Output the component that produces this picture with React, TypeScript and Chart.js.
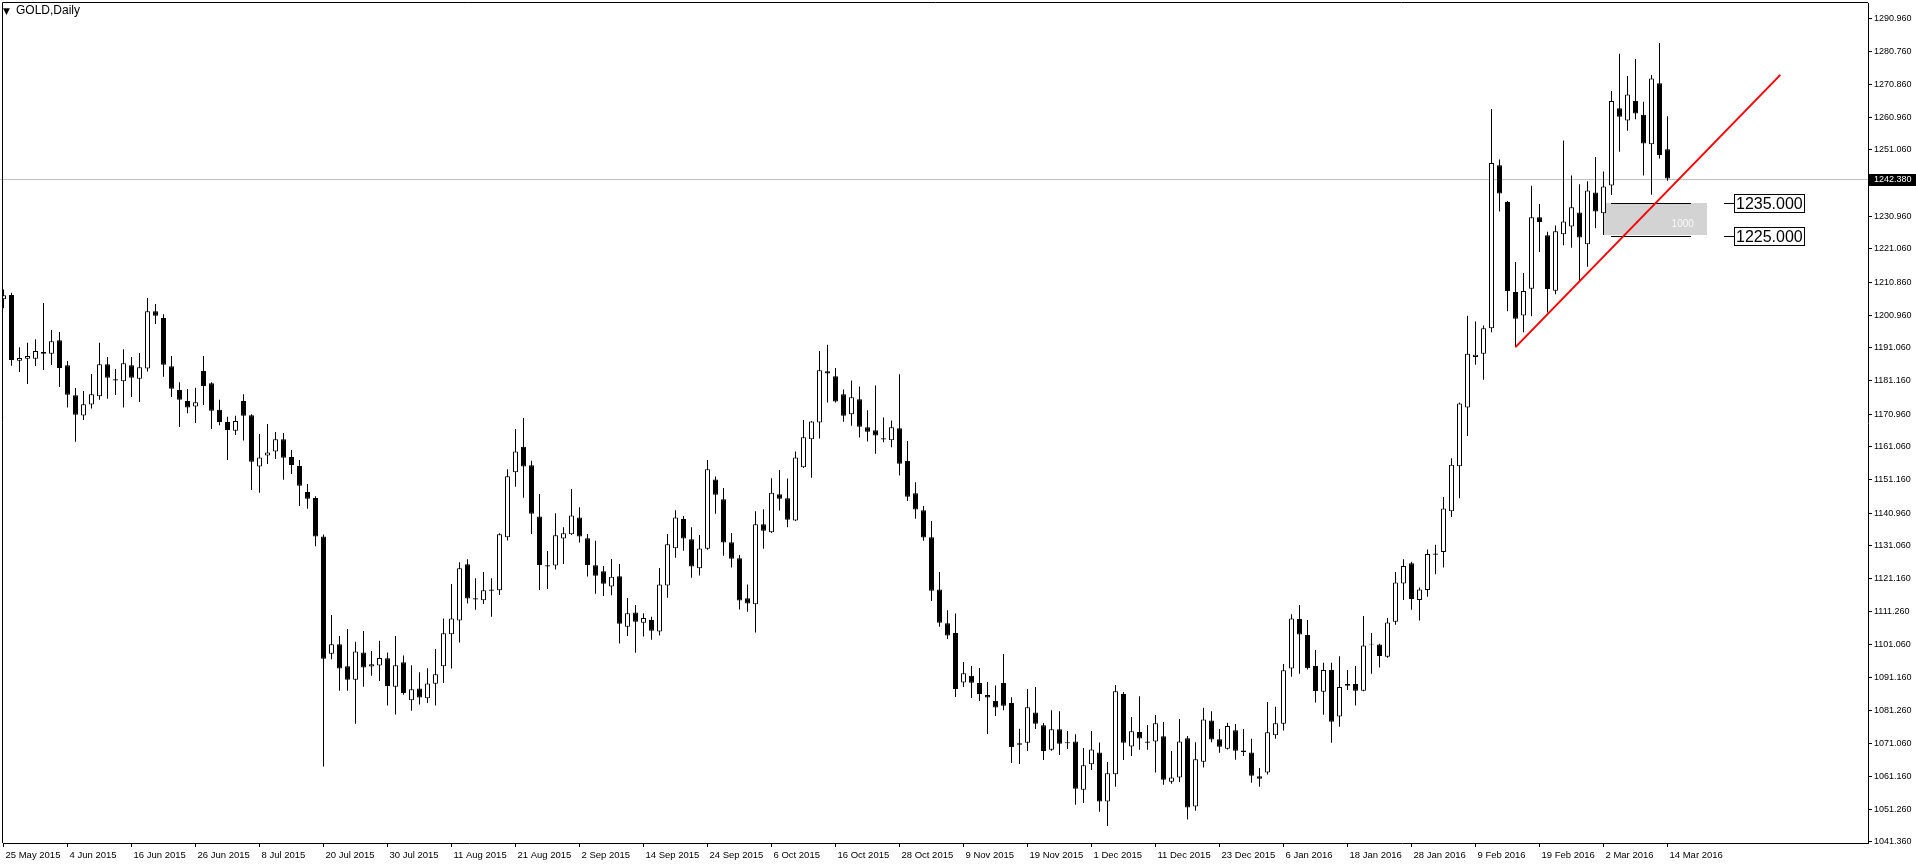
import React, { useEffect, useRef } from 'react';
import { Chart, registerables } from 'chart.js';

Chart.register(...registerables);

// ---- Daily GOLD candles (25 May 2015 .. 14 Mar 2016) ----
const OPEN = [
  1205.8, 1207.1, 1187.2, 1187.8, 1187.8, 1189.8, 1189.3, 1193.4, 1185.8, 1176.7,
  1170.6, 1173.9, 1176.4, 1186.1, 1181.6, 1181.0, 1185.8, 1181.7, 1184.8, 1202.2,
  1200.1, 1185.5, 1178.3, 1175.0, 1173.3, 1184.1, 1180.4, 1172.3, 1168.6, 1166.0,
  1175.0, 1170.7, 1155.1, 1158.5, 1159.7, 1163.4, 1158.0, 1155.3, 1147.4, 1145.6,
  1133.9, 1098.4, 1101.3, 1094.6, 1090.5, 1098.8, 1094.5, 1094.8, 1097.0, 1088.4,
  1095.8, 1084.3, 1087.9, 1084.9, 1089.3, 1094.6, 1104.3, 1108.5, 1125.5, 1115.2,
  1114.6, 1117.9, 1117.6, 1133.7, 1153.4, 1161.1, 1155.5, 1140.0, 1125.2, 1125.1,
  1133.3, 1134.6, 1139.7, 1133.4, 1125.2, 1123.4, 1118.8, 1121.9, 1106.6, 1110.9,
  1107.8, 1108.6, 1105.1, 1119.1, 1130.4, 1139.2, 1133.1, 1124.3, 1130.2, 1151.2,
  1145.2, 1132.2, 1127.3, 1115.2, 1113.4, 1137.6, 1135.2, 1146.7, 1145.5, 1138.8,
  1154.9, 1163.4, 1168.5, 1184.0, 1182.5, 1177.0, 1171.0, 1175.5, 1167.0, 1166.1,
  1163.7, 1163.1, 1166.7, 1156.8, 1147.0, 1141.9, 1133.7, 1117.9, 1107.6, 1104.7,
  1089.7, 1091.7, 1089.5, 1085.9, 1084.1, 1089.5, 1083.5, 1071.3, 1071.4, 1080.6,
  1076.7, 1069.3, 1075.5, 1071.6, 1071.8, 1057.2, 1064.9, 1068.5, 1053.6, 1061.9,
  1086.2, 1070.3, 1074.7, 1071.8, 1071.8, 1073.4, 1059.6, 1060.9, 1072.8, 1052.1,
  1065.7, 1078.2, 1072.5, 1069.6, 1075.2, 1069.1, 1068.5, 1061.3, 1062.4, 1073.7,
  1077.2, 1093.9, 1108.9, 1104.1, 1094.7, 1086.9, 1093.5, 1079.4, 1089.2, 1089.2,
  1087.2, 1101.2, 1101.2, 1097.5, 1108.1, 1119.7, 1125.8, 1114.7, 1117.7, 1128.4,
  1129.2, 1141.6, 1155.2, 1173.0, 1188.3, 1189.3, 1197.0, 1246.4, 1235.3, 1208.0,
  1200.9, 1209.0, 1230.7, 1225.2, 1208.4, 1225.5, 1227.9, 1232.1, 1222.5, 1238.2,
  1231.9, 1240.3, 1263.7, 1260.0, 1265.9, 1261.7, 1252.8, 1271.3, 1251.3,
];
const HIGH = [
  1208.8, 1207.8, 1191.3, 1192.6, 1193.7, 1204.7, 1196.5, 1195.9, 1187.1, 1178.9,
  1178.0, 1183.2, 1192.6, 1188.3, 1184.7, 1190.7, 1188.3, 1189.5, 1206.2, 1204.4,
  1201.3, 1188.6, 1180.7, 1178.6, 1179.0, 1188.6, 1180.7, 1175.4, 1170.2, 1170.5,
  1177.0, 1171.0, 1165.0, 1168.0, 1165.6, 1165.3, 1160.1, 1157.1, 1149.8, 1146.1,
  1134.5, 1110.1, 1103.8, 1105.9, 1102.0, 1105.3, 1099.2, 1102.3, 1098.8, 1103.8,
  1097.9, 1094.9, 1092.8, 1094.0, 1099.8, 1109.1, 1119.5, 1126.1, 1127.0, 1121.3,
  1123.2, 1121.3, 1134.9, 1154.3, 1166.5, 1169.8, 1156.9, 1146.8, 1129.5, 1141.0,
  1136.7, 1148.3, 1142.8, 1134.7, 1132.6, 1125.0, 1127.1, 1125.6, 1115.3, 1113.2,
  1110.7, 1109.6, 1124.4, 1134.7, 1141.9, 1140.1, 1136.7, 1134.4, 1157.1, 1152.1,
  1148.6, 1135.0, 1128.3, 1119.4, 1141.6, 1142.2, 1151.6, 1154.1, 1151.5, 1159.7,
  1169.2, 1168.9, 1190.1, 1192.0, 1185.0, 1178.5, 1181.2, 1179.4, 1172.2, 1179.7,
  1170.0, 1169.1, 1183.1, 1162.9, 1150.4, 1143.2, 1138.6, 1123.2, 1111.6, 1110.6,
  1095.9, 1094.7, 1094.1, 1089.8, 1088.8, 1098.3, 1085.2, 1075.7, 1087.7, 1088.3,
  1077.4, 1081.3, 1081.0, 1075.0, 1074.0, 1069.8, 1075.0, 1071.5, 1065.6, 1088.9,
  1086.8, 1079.2, 1085.5, 1076.8, 1079.8, 1077.7, 1068.9, 1078.6, 1073.5, 1071.6,
  1082.0, 1081.0, 1075.6, 1077.5, 1077.1, 1075.6, 1072.6, 1063.8, 1083.8, 1082.3,
  1095.3, 1110.4, 1113.2, 1108.6, 1099.5, 1095.7, 1095.7, 1097.6, 1093.5, 1094.7,
  1109.8, 1104.7, 1101.4, 1109.2, 1123.2, 1127.0, 1126.3, 1118.5, 1130.0, 1131.4,
  1145.9, 1157.6, 1174.5, 1200.8, 1199.1, 1197.9, 1263.5, 1248.2, 1235.6, 1217.1,
  1213.8, 1240.2, 1234.7, 1226.3, 1228.2, 1253.9, 1243.3, 1240.7, 1241.6, 1248.9,
  1244.5, 1268.9, 1280.2, 1273.5, 1278.6, 1265.7, 1273.8, 1283.5, 1261.3,
];
const LOW = [
  1203.1, 1185.7, 1183.8, 1180.1, 1185.6, 1184.4, 1185.9, 1179.2, 1173.0, 1162.6,
  1169.2, 1172.7, 1175.4, 1175.7, 1176.8, 1173.0, 1176.2, 1174.7, 1183.9, 1198.3,
  1182.3, 1176.2, 1167.1, 1171.3, 1168.3, 1173.8, 1166.5, 1167.6, 1157.1, 1164.7,
  1163.0, 1148.0, 1147.2, 1155.9, 1157.4, 1151.1, 1152.9, 1143.2, 1142.3, 1131.0,
  1064.2, 1096.7, 1087.2, 1087.2, 1077.2, 1088.4, 1091.7, 1090.1, 1082.7, 1080.0,
  1086.0, 1081.1, 1083.0, 1083.5, 1082.7, 1089.5, 1093.9, 1101.8, 1113.6, 1111.7,
  1113.5, 1109.6, 1116.2, 1132.7, 1149.0, 1145.7, 1134.7, 1117.7, 1118.0, 1123.9,
  1125.6, 1134.4, 1132.1, 1121.8, 1116.6, 1115.9, 1116.1, 1101.5, 1103.8, 1098.7,
  1103.6, 1102.6, 1103.9, 1115.4, 1127.5, 1129.6, 1121.4, 1122.1, 1129.9, 1140.8,
  1128.1, 1124.5, 1111.8, 1111.1, 1104.8, 1130.2, 1135.0, 1141.8, 1136.7, 1138.6,
  1154.7, 1151.7, 1163.6, 1174.5, 1174.5, 1168.7, 1167.5, 1163.9, 1162.7, 1159.0,
  1162.5, 1161.0, 1152.4, 1144.7, 1139.3, 1132.6, 1114.4, 1106.6, 1102.9, 1085.3,
  1088.3, 1085.0, 1084.1, 1074.1, 1079.5, 1081.3, 1065.3, 1065.0, 1068.9, 1075.6,
  1066.2, 1069.0, 1067.7, 1069.5, 1052.6, 1053.2, 1063.2, 1050.5, 1046.2, 1058.1,
  1066.2, 1067.4, 1069.3, 1069.3, 1062.4, 1058.7, 1059.0, 1059.5, 1048.2, 1050.8,
  1063.9, 1071.6, 1068.4, 1069.4, 1066.3, 1067.4, 1059.3, 1058.1, 1061.8, 1072.6,
  1075.1, 1091.4, 1092.3, 1093.6, 1083.6, 1079.9, 1071.4, 1076.3, 1087.4, 1082.7,
  1087.0, 1092.3, 1094.2, 1097.2, 1107.2, 1114.7, 1111.7, 1108.5, 1115.7, 1122.5,
  1124.5, 1139.8, 1145.5, 1164.4, 1186.0, 1181.4, 1195.8, 1232.4, 1202.2, 1191.3,
  1195.8, 1200.7, 1220.1, 1201.8, 1207.3, 1222.2, 1221.4, 1211.4, 1215.7, 1227.3,
  1225.3, 1237.4, 1250.5, 1256.9, 1260.4, 1243.3, 1237.5, 1248.5, 1241.7,
];
const CLOSE = [
  1207.0, 1187.4, 1188.0, 1188.6, 1190.1, 1189.3, 1193.1, 1185.0, 1176.9, 1170.8,
  1174.0, 1177.0, 1186.1, 1182.0, 1181.2, 1186.4, 1182.0, 1185.2, 1202.2, 1200.8,
  1186.0, 1178.7, 1175.4, 1173.0, 1174.6, 1179.5, 1172.0, 1168.6, 1166.2, 1168.9,
  1170.5, 1156.6, 1157.9, 1159.4, 1163.4, 1157.8, 1155.6, 1149.3, 1145.4, 1133.9,
  1096.9, 1101.3, 1093.9, 1090.5, 1099.1, 1094.2, 1095.2, 1097.1, 1088.6, 1094.9,
  1086.5, 1087.6, 1085.1, 1089.4, 1092.2, 1104.6, 1109.1, 1124.3, 1115.1, 1114.8,
  1117.6, 1117.5, 1134.6, 1152.2, 1159.7, 1155.1, 1140.8, 1125.3, 1124.8, 1134.3,
  1134.9, 1140.3, 1133.9, 1125.3, 1122.0, 1119.6, 1121.7, 1107.5, 1110.7, 1108.1,
  1109.2, 1105.4, 1119.4, 1131.6, 1139.7, 1133.3, 1124.8, 1130.3, 1154.3, 1146.6,
  1132.1, 1127.2, 1114.5, 1113.6, 1137.6, 1135.7, 1147.2, 1145.4, 1139.0, 1157.9,
  1164.0, 1168.8, 1184.3, 1183.3, 1174.8, 1170.5, 1176.1, 1167.2, 1165.7, 1164.5,
  1163.3, 1167.0, 1156.0, 1146.0, 1142.1, 1133.6, 1117.5, 1107.8, 1103.9, 1087.7,
  1092.5, 1089.6, 1086.2, 1085.1, 1082.1, 1082.6, 1070.1, 1070.8, 1082.2, 1077.2,
  1068.9, 1075.5, 1071.1, 1071.3, 1057.5, 1064.6, 1069.4, 1053.6, 1062.2, 1087.0,
  1071.4, 1074.9, 1072.7, 1071.4, 1077.3, 1060.2, 1060.9, 1071.8, 1051.8, 1066.4,
  1078.5, 1072.4, 1070.2, 1076.5, 1069.0, 1068.6, 1061.4, 1060.5, 1074.6, 1077.3,
  1093.4, 1109.1, 1104.2, 1094.0, 1087.1, 1093.5, 1077.8, 1088.3, 1088.7, 1087.2,
  1100.9, 1101.4, 1097.7, 1107.9, 1120.0, 1125.0, 1115.0, 1117.9, 1128.6, 1128.8,
  1142.4, 1155.7, 1174.2, 1189.3, 1189.0, 1197.0, 1247.1, 1237.9, 1208.3, 1199.9,
  1208.3, 1230.7, 1229.2, 1208.9, 1226.4, 1229.4, 1233.7, 1224.5, 1238.8, 1232.4,
  1240.0, 1265.9, 1261.1, 1267.9, 1262.1, 1253.0, 1272.7, 1249.5, 1242.4,
];

// ---- axes ----
const DATE_LABELS = [
  '25 May 2015', '4 Jun 2015', '16 Jun 2015', '26 Jun 2015', '8 Jul 2015', '20 Jul 2015',
  '30 Jul 2015', '11 Aug 2015', '21 Aug 2015', '2 Sep 2015', '14 Sep 2015', '24 Sep 2015',
  '6 Oct 2015', '16 Oct 2015', '28 Oct 2015', '9 Nov 2015', '19 Nov 2015', '1 Dec 2015',
  '11 Dec 2015', '23 Dec 2015', '6 Jan 2016', '18 Jan 2016', '28 Jan 2016', '9 Feb 2016',
  '19 Feb 2016', '2 Mar 2016', '14 Mar 2016',
];
const DATE_LABEL_STEP = 8; // one label every 8 bars
const Y_TICKS = [
  1290.96, 1280.76, 1270.86, 1260.96, 1251.06, 1240.86, 1230.96, 1221.06, 1210.86,
  1200.96, 1191.06, 1181.16, 1170.96, 1161.06, 1151.16, 1140.96, 1131.06, 1121.16,
  1111.26, 1101.06, 1091.16, 1081.26, 1071.06, 1061.16, 1051.26, 1041.36,
];
const X_RANGE = [-0.0625, 233.0625];
const Y_RANGE = [1041.045, 1295.59];

// ---- drawings ----
const LAST_PRICE = 1242.38;
const TREND_X = [189, 222.1];
const TREND_Y = [1191.3, 1273.8];
const ZONE_X = [200, 212.9];
const ZONE_Y = [1225.2, 1235];
const ZONE_TEXT = '1000';
const ZONE_TEXT_AT = [209.9, 1228.4];
const LEVELS = [1235, 1225];
const LEVEL_LINE_X = [200.94, 210.9];
const LEVEL_TAG_X = [215.1, 216.35];
const TITLE = 'GOLD,Daily';

const FONT = '"Liberation Sans", Arial, sans-serif';

const overlayPlugin = {
  id: 'mt4Overlay',
  beforeDatasetsDraw(chart: any) {
    const { ctx, chartArea: a, scales } = chart;
    const x = scales.x;
    const y = scales.y;
    ctx.save();
    // zone
    const zx0 = x.getPixelForValue(ZONE_X[0]);
    const zx1 = x.getPixelForValue(ZONE_X[1]);
    const zy0 = y.getPixelForValue(ZONE_Y[1]);
    const zy1 = y.getPixelForValue(ZONE_Y[0]);
    ctx.fillStyle = '#d3d3d3';
    ctx.fillRect(Math.round(zx0), Math.round(zy0), Math.round(zx1 - zx0), Math.round(zy1 - zy0));
    ctx.fillStyle = '#f8f8f8';
    ctx.font = '10px ' + FONT;
    ctx.textAlign = 'center';
    ctx.textBaseline = 'middle';
    ctx.fillText(ZONE_TEXT, x.getPixelForValue(ZONE_TEXT_AT[0]), y.getPixelForValue(ZONE_TEXT_AT[1]));
    // last price line
    const py = Math.round(y.getPixelForValue(LAST_PRICE)) + 0.5;
    ctx.strokeStyle = '#c0c0c0';
    ctx.lineWidth = 1;
    ctx.beginPath();
    ctx.moveTo(0, py);
    ctx.lineTo(a.right, py);
    ctx.stroke();
    // level lines
    ctx.strokeStyle = '#000';
    LEVELS.forEach((lv) => {
      const ly = Math.round(y.getPixelForValue(lv)) + 0.5;
      ctx.beginPath();
      ctx.moveTo(Math.round(x.getPixelForValue(LEVEL_LINE_X[0])), ly);
      ctx.lineTo(Math.round(x.getPixelForValue(LEVEL_LINE_X[1])), ly);
      ctx.stroke();
    });
    ctx.restore();
  },
  afterDraw(chart: any) {
    const { ctx, chartArea: a, scales } = chart;
    const x = scales.x;
    const y = scales.y;
    ctx.save();
    // frame (left + top)
    ctx.strokeStyle = '#000';
    ctx.lineWidth = 1;
    ctx.beginPath();
    ctx.moveTo(a.left - 0.5, a.bottom);
    ctx.lineTo(a.left - 0.5, a.top - 0.5);
    ctx.lineTo(a.right, a.top - 0.5);
    ctx.stroke();

    // level tags
    ctx.font = '16px ' + FONT;
    ctx.textBaseline = 'middle';
    ctx.textAlign = 'left';
    LEVELS.forEach((lv) => {
      const ly = Math.round(y.getPixelForValue(lv)) + 0.5;
      const lx0 = Math.round(x.getPixelForValue(LEVEL_TAG_X[0]));
      const bx = Math.round(x.getPixelForValue(LEVEL_TAG_X[1]));
      const txt = lv.toFixed(3);
      const w = Math.round(ctx.measureText(txt).width) + 3;
      ctx.strokeStyle = '#000';
      ctx.beginPath();
      ctx.moveTo(lx0, ly);
      ctx.lineTo(bx, ly);
      ctx.stroke();
      ctx.fillStyle = '#fff';
      ctx.fillRect(bx + 0.5, ly - 9, w, 18);
      ctx.strokeRect(bx + 0.5, ly - 9, w, 18);
      ctx.fillStyle = '#000';
      ctx.fillText(txt, bx + 2, ly + 1);
    });

    // last price tag on axis
    const py = Math.round(y.getPixelForValue(LAST_PRICE));
    ctx.fillStyle = '#000';
    ctx.fillRect(a.right + 1, py - 5, 1916 - a.right - 1, 12);
    ctx.fillStyle = '#fff';
    ctx.font = '9px ' + FONT;
    ctx.textBaseline = 'middle';
    ctx.fillText(LAST_PRICE.toFixed(3), a.right + 6, py + 1);

    // title
    ctx.fillStyle = '#000';
    ctx.font = '9px "DejaVu Sans", sans-serif';
    ctx.textBaseline = 'alphabetic';
    ctx.fillText('\u25BC', 3, 14);
    ctx.font = '12px ' + FONT;
    ctx.fillText(TITLE, 16, 14);
    ctx.restore();
  },
};

export default function App() {
  const ref = useRef<HTMLCanvasElement | null>(null);

  useEffect(() => {
    const canvas = ref.current;
    if (!canvas) return;
    const bodies = OPEN.map((o, i) => ({ x: i, y: [o, CLOSE[i]] }));
    const wicks = LOW.map((l, i) => ({ x: i, y: [l, HIGH[i]] }));
    const bodyColors = OPEN.map((o, i) => (CLOSE[i] >= o ? '#ffffff' : '#000000'));

    const chart = new Chart(canvas, {
      type: 'bar',
      data: {
        datasets: [
          {
            type: 'line',
            data: [
              { x: TREND_X[0], y: TREND_Y[0] },
              { x: TREND_X[1], y: TREND_Y[1] },
            ],
            borderColor: '#ff0000',
            borderWidth: 2,
            pointRadius: 0,
            tension: 0,
            fill: false,
            order: 0,
          } as any,
          {
            type: 'bar',
            data: bodies as any,
            backgroundColor: bodyColors,
            borderColor: '#000000',
            borderWidth: 1,
            borderSkipped: false,
            barThickness: 5,
            grouped: false,
            inflateAmount: 0,
            order: 1,
          } as any,
          {
            type: 'bar',
            data: wicks as any,
            backgroundColor: '#000000',
            borderWidth: 0,
            borderSkipped: false,
            barThickness: 1,
            grouped: false,
            inflateAmount: 0,
            order: 2,
          } as any,
        ],
      },
      options: {
        animation: false,
        responsive: false,
        devicePixelRatio: 1,
        events: [],
        layout: { padding: { left: 3, top: 3, right: 0, bottom: 0 } },
        plugins: { legend: { display: false }, tooltip: { enabled: false }, title: { display: false } },
        scales: {
          x: {
            type: 'linear',
            min: X_RANGE[0],
            max: X_RANGE[1],
            bounds: 'data',
            offset: false,
            position: 'bottom',
            afterFit: (s: any) => {
              s.height = 23;
              s.paddingLeft = 0;
              s.paddingRight = 0;
            },
            afterBuildTicks: (s: any) => {
              s.ticks = DATE_LABELS.map((_, i) => ({ value: i * DATE_LABEL_STEP }));
            },
            grid: {
              offset: false,
              drawOnChartArea: false,
              drawTicks: true,
              tickLength: 4,
              tickColor: '#000',
              color: '#000',
            },
            border: { display: true, color: '#000', width: 1 },
            ticks: {
              autoSkip: false,
              maxRotation: 0,
              minRotation: 0,
              align: 'start',
              padding: 3,
              labelOffset: 2,
              color: '#000',
              font: { family: FONT, size: 9.5 },
              callback: (_v: any, i: number) => DATE_LABELS[i],
            },
          },
          y: {
            type: 'linear',
            position: 'right',
            min: Y_RANGE[0],
            max: Y_RANGE[1],
            bounds: 'data',
            afterFit: (s: any) => {
              s.width = 48;
              s.paddingTop = 0;
              s.paddingBottom = 0;
            },
            afterBuildTicks: (s: any) => {
              s.ticks = Y_TICKS.map((v) => ({ value: v }));
            },
            grid: {
              drawOnChartArea: false,
              drawTicks: true,
              tickLength: 4,
              tickColor: '#000',
              color: '#000',
            },
            border: { display: true, color: '#000', width: 1 },
            ticks: {
              autoSkip: false,
              padding: 2,
              color: '#000',
              font: { family: FONT, size: 9 },
              callback: (v: any) => Number(v).toFixed(3),
            },
          },
        },
      } as any,
      plugins: [overlayPlugin],
    });
    return () => chart.destroy();
  }, []);

  return (
    <div style={{ position: 'fixed', left: 0, top: 0, width: 1916, height: 866, background: '#fff' }}>
      <canvas ref={ref} width={1916} height={866} style={{ display: 'block' }} />
    </div>
  );
}
